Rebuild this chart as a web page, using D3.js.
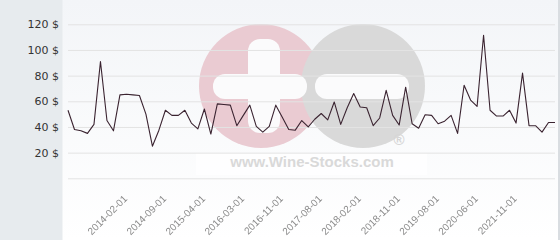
<!DOCTYPE html>
<html><head><meta charset="utf-8">
<script src="https://cdn.jsdelivr.net/npm/d3@7/dist/d3.min.js"></script>
<style>html,body{margin:0;padding:0;background:#fff;overflow:hidden}
.xlab{filter:grayscale(1)}</style>
</head><body><svg id="c" width="560" height="240"></svg>
<script>
// Price series (one value per category)
const values = [53, 38, 37, 35, 42, 91, 45, 37, 65, 65.5, 65, 64.5, 50, 25, 37.5, 53, 49, 49, 53, 43,
  38.5, 54, 34.5, 58, 57.5, 57, 41, 49, 57, 40.5, 36, 40.5, 57, 47.5, 38, 37.5, 45, 40, 46, 50.5,
  45.5, 59.5, 42, 55, 66, 55.5, 55, 41, 47, 68.5, 49, 41.5, 71, 42.5, 39, 49.5, 49, 42.5, 44.5, 49,
  35, 72.5, 61, 56, 111.5, 53, 48.5, 48.5, 53, 43, 82, 41, 41, 36, 43.5, 43.5];
const categories = d3.range(values.length);
const yTickValues = [0, 20, 40, 60, 80, 100, 120];
const xTickIndex = [9, 15, 21, 27, 33, 39, 45, 51, 57, 63, 69];
const xTickLabels = ["2014-02-01", "2014-09-01", "2015-04-01", "2016-03-01", "2016-11-01", "2017-08-01",
  "2018-02-01", "2018-11-01", "2019-08-01", "2020-06-01", "2021-11-01"];

const svg = d3.select("#c");
const L = 68, R = 555, T = 24.3, B = 178.3;

const defs = svg.append("defs");
const g1 = defs.append("linearGradient").attr("id", "bg").attr("x1", 0).attr("y1", 0).attr("x2", 0).attr("y2", 1);
g1.append("stop").attr("offset", "0%").attr("stop-color", "#f3f5f8");
g1.append("stop").attr("offset", "100%").attr("stop-color", "#ffffff");

// backgrounds
svg.append("rect").attr("x", 0).attr("y", 0).attr("width", 560).attr("height", 240).attr("fill", "url(#bg)");
svg.append("rect").attr("x", 0).attr("y", 0).attr("width", 62.5).attr("height", 240).attr("fill", "#e7ebee");
svg.append("rect").attr("x", 558).attr("y", 0).attr("width", 2).attr("height", 240).attr("fill", "#d9dde1");

// watermark
const wm = svg.append("g");
wm.append("rect").attr("x", 196).attr("y", 153).attr("width", 231).attr("height", 22).attr("fill", "#ffffff").attr("opacity", 0.7);
wm.append("circle").attr("cx", 261).attr("cy", 86).attr("r", 62).attr("fill", "#eacbd2");
wm.append("circle").attr("cx", 363).attr("cy", 86).attr("r", 62).attr("fill", "#d9d9d9");
wm.append("rect").attr("x", 213).attr("y", 74).attr("width", 94).attr("height", 25).attr("rx", 12).attr("fill", "#fbfbfc");
wm.append("rect").attr("x", 248).attr("y", 39).attr("width", 32).attr("height", 94).attr("rx", 12).attr("fill", "#fbfbfc");
wm.append("rect").attr("x", 315).attr("y", 74).attr("width", 94).attr("height", 25).attr("rx", 12).attr("fill", "#fbfbfc");
wm.append("text").attr("x", 399).attr("y", 145).attr("text-anchor", "middle")
  .attr("font-family", "Liberation Sans, Arial, sans-serif").attr("font-size", 15).attr("font-weight", "bold")
  .attr("fill", "#d6d6d6").text("®");
wm.append("text").attr("x", 312).attr("y", 167).attr("text-anchor", "middle")
  .attr("font-family", "Liberation Sans, Arial, sans-serif").attr("font-size", 15).attr("font-weight", "bold")
  .attr("fill", "#d9d9d9").text("www.Wine-Stocks.com");

const x = d3.scalePoint().domain(categories).range([L, R]);
const y = d3.scaleLinear().domain([0, 120]).range([B, T]);

// y axis with gridlines
const ya = svg.append("g").attr("transform", `translate(${L},0)`)
  .call(d3.axisLeft(y).tickValues(yTickValues).tickSize(-(R - L)).tickPadding(9)
    .tickFormat(d => d === 0 ? "" : d + " $"));
ya.select(".domain").remove();
ya.selectAll(".tick line").attr("stroke", "#e3e3e3").attr("stroke-width", 1);
ya.selectAll(".tick text").attr("fill", "#333").attr("font-size", 11)
  .attr("font-family", "DejaVu Sans, sans-serif");

// x axis labels
const xa = svg.append("g").attr("class", "xlab").attr("transform", `translate(0,${B})`)
  .call(d3.axisBottom(x).tickValues(xTickIndex).tickSize(0)
    .tickFormat((d) => xTickLabels[xTickIndex.indexOf(d)]));
xa.select(".domain").remove();
xa.selectAll(".tick text").attr("x", 0).attr("y", 0).attr("dy", 0)
  .attr("transform", "translate(1,21) rotate(-45)").attr("text-anchor", "end")
  .attr("fill", "#8a8a8a").attr("font-size", 10)
  .attr("font-family", "Liberation Sans, Arial, sans-serif");

// line
svg.append("path").datum(values)
  .attr("fill", "none").attr("stroke", "#3a2330").attr("stroke-width", 1.1)
  .attr("stroke-linejoin", "round")
  .attr("d", d3.line().x((d, i) => x(categories[i])).y(d => y(d)));
</script></body></html>
